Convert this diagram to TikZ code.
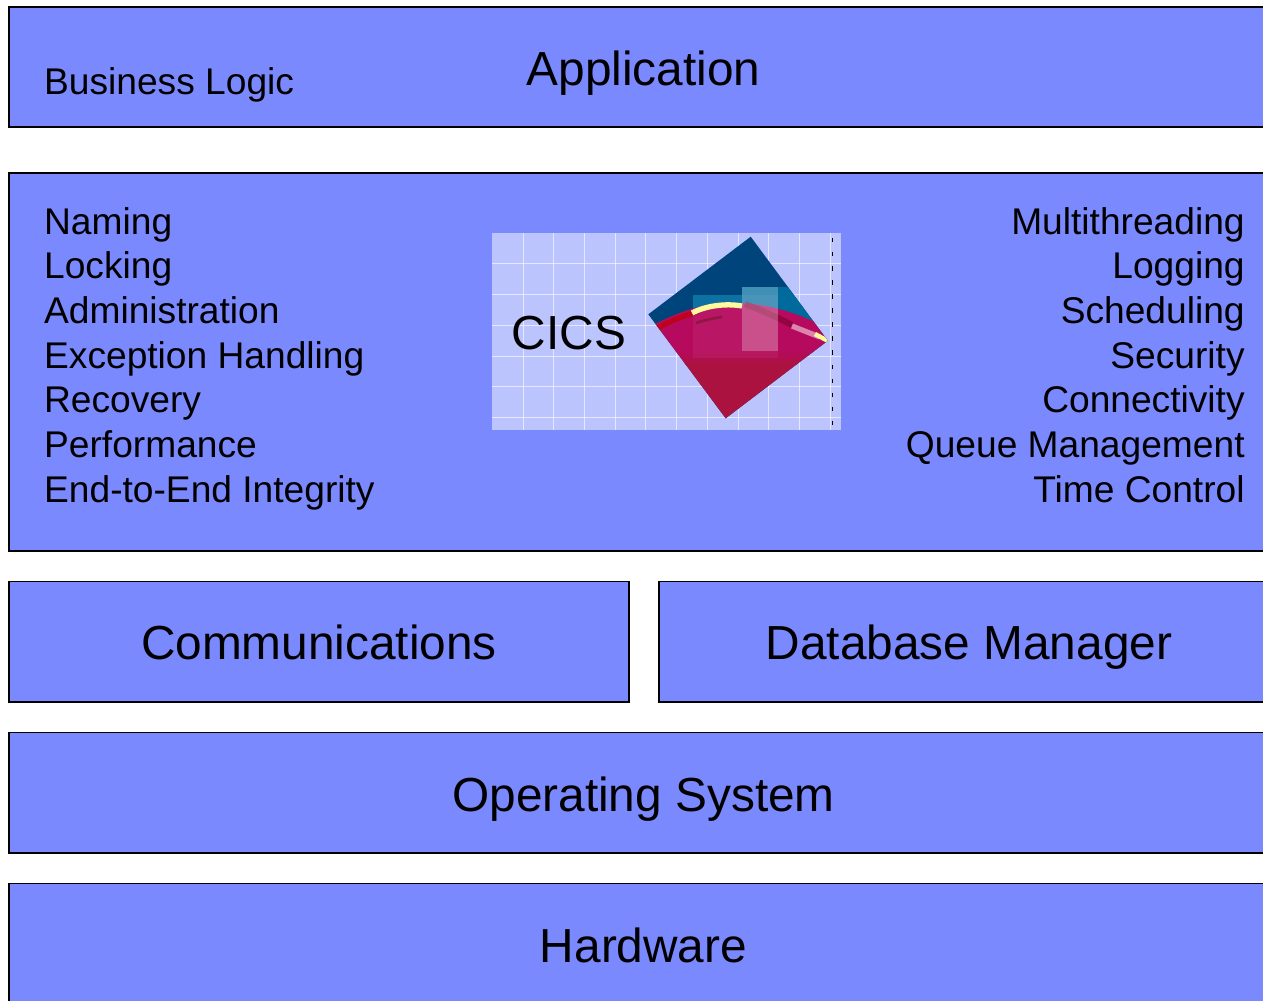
\documentclass[tikz,border=0pt]{standalone}
\usepackage{fontspec}
\setmainfont{Liberation Sans}
\usetikzlibrary{positioning}
\definecolor{layerblue}{RGB}{122,137,253}
\definecolor{logoback}{RGB}{188,196,254}
\definecolor{logoblue}{RGB}{0,68,124}
\definecolor{logoteal}{RGB}{0,106,156}
\definecolor{logored}{RGB}{171,18,64}
\definecolor{logomagenta}{RGB}{182,10,94}
\tikzset{
layerbox/.style={draw=black,fill=layerblue,line width=1.1pt,anchor=north west,inner sep=0pt},
bigtext/.style={font=\fontsize{27.2}{32}\selectfont,inner sep=0pt,anchor=base},
smalltext/.style={font=\fontsize{21.15}{25.4}\selectfont,inner sep=0pt,align=left},
gridline/.style={white,line width=0.5pt,opacity=0.6}
}
\begin{document}
\begin{tikzpicture}[x=0.02cm,y=-0.02cm]
\useasboundingbox (0,0) rectangle (1263,1000);
% layers
\node[layerbox,minimum width=26cm,minimum height=2.41cm] (application) at (7.7,5.8) {};
\node[layerbox,minimum width=26cm,minimum height=7.56cm] (services) at (7.7,172.3) {};
\node[layerbox,minimum width=12.41cm,minimum height=2.41cm] (comms) at (7.7,580.5) {};
\node[layerbox,minimum width=14cm,minimum height=2.41cm] (database) at (658.2,580.5) {};
\node[layerbox,minimum width=26cm,minimum height=2.41cm] (opsys) at (7.7,731.5) {};
\node[layerbox,minimum width=26cm,minimum height=3cm] (hardware) at (7.7,882.5) {};
% logo
\fill[logoback] (492,233) rectangle (841,430);
\foreach \x in {523.3,553.3,584.3,615.3,645.3,676.3,707.3,738.3,768.3,799.3,830.7}
\draw[gridline] (\x,233) -- (\x,430);
\foreach \y in {263.3,294.3,325,356,386.3,417.3}
\draw[gridline] (492,\y) -- (841,\y);
\draw[black,line width=0.5pt,dash pattern=on 2.5pt off 5.5pt] (832.3,238) -- (832.3,425);
\begin{scope}
\clip (750.7,236.7) -- (827.7,340.7) -- (725.7,418.3) -- (648.3,314.3) -- cycle;
\fill[logoblue] (640,230) rectangle (835,425);
\fill[logoteal] (692.5,295) rectangle (778,358);
\fill[logoteal] (741.5,287) rectangle (835,358);
% red part below the arc
\fill[logomagenta]
(640,332) .. controls (665,318) and (695,304) .. (725,303) .. controls (760,302) and (795,310) .. (835,332) -- (835,352) -- (640,352) -- cycle;
\shade[top color=logomagenta,bottom color=logored] (640,351) rectangle (835,364);
\fill[logored] (640,363) rectangle (835,425);
\draw[red!75!black,line width=3pt,opacity=0.7] (656,329) .. controls (668,322) and (680,317) .. (694,313);
\draw[logored!70!black,line width=1.5pt,opacity=0.7] (696,323) .. controls (705,320) and (714,318) .. (722,317);
\draw[yellow!40!white,line width=3pt] (692,313) .. controls (705,306) and (725,303) .. (742,306);
\draw[purple!60!black,line width=3.5pt,opacity=0.5] (745,304) .. controls (760,310) and (775,316) .. (792,325);
\draw[white,line width=3pt,opacity=0.5] (792,326) .. controls (802,330) and (812,334) .. (820,337);
\draw[yellow!40!white,line width=2.5pt] (815,334) -- (828,341);
\fill[white,opacity=0.05] (692.5,295) rectangle (778,358);
\fill[white,opacity=0.25] (741.5,287) rectangle (778,351);
\end{scope}
\node[bigtext] (cics) at (569,349) {CICS};
% labels
\node[bigtext] (applabel) at (643.5,86) {Application};
\node[smalltext,anchor=base west] (bizlabel) at (43.8,95) {Business Logic};
\node[bigtext] (commlabel) at (319,659) {Communications};
\node[bigtext] (dblabel) at (969,659) {Database Manager};
\node[bigtext] (oslabel) at (643.5,811) {Operating System};
\node[bigtext] (hwlabel) at (643.5,962) {Hardware};
\node[smalltext,anchor=north west] (leftlist) at (43.8,207) {Naming\\Locking\\Administration\\Exception Handling\\Recovery\\Performance\\End-to-End Integrity};
\node[smalltext,align=right,anchor=north east] (rightlist) at (1245,207) {Multithreading\\Logging\\Scheduling\\Security\\Connectivity\\Queue Management\\Time Control};
\end{tikzpicture}
\end{document}
